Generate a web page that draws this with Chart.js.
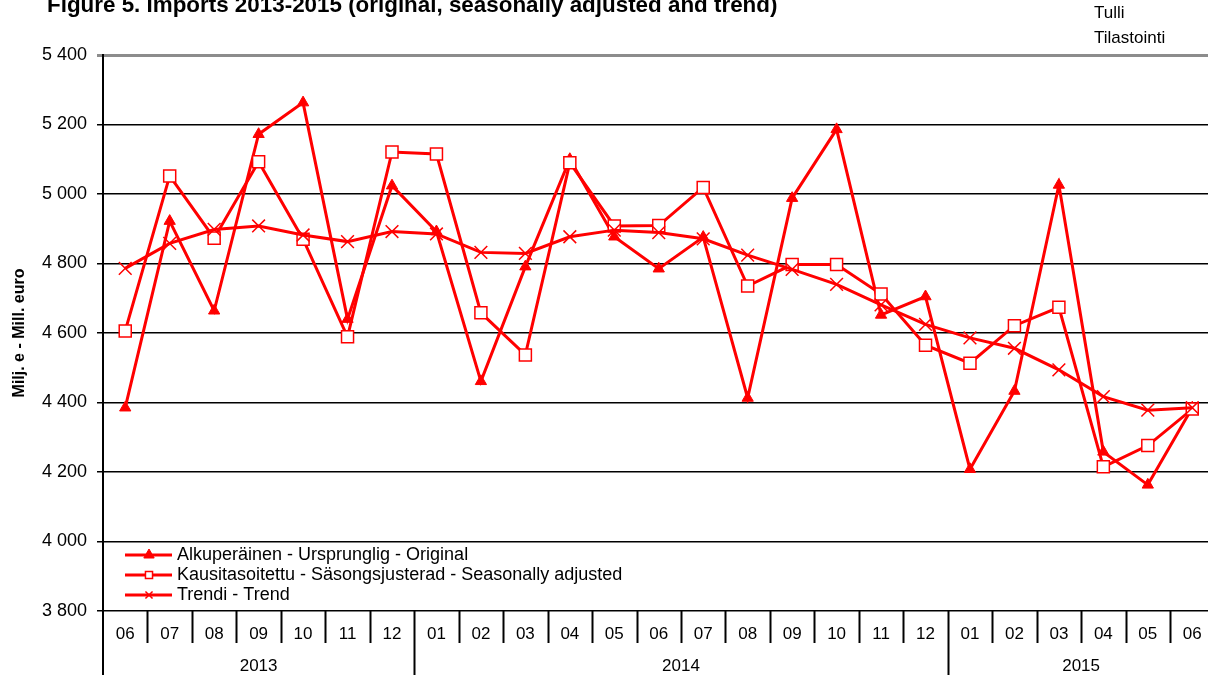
<!DOCTYPE html>
<html>
<head>
<meta charset="utf-8">
<script src="https://cdn.jsdelivr.net/npm/chart.js@4.4.1/dist/chart.umd.min.js"></script>
<style>
html, body { margin: 0; padding: 0; background: #fff; overflow: hidden; width: 1208px; height: 675px; }
#wrap { position: relative; width: 1208px; height: 675px; overflow: hidden; }
#chart { position: absolute; left: 0; top: 0; width: 1225px; height: 675px; }
.title { position: absolute; left: 47px; top: -6px; font: bold 22.4px "Liberation Sans", Arial, sans-serif; line-height: 22px; white-space: nowrap; color: #000; }
.source { position: absolute; left: 1094px; top: 0px; font: 17px "Liberation Sans", Arial, sans-serif; line-height: 25px; color: #000; }
</style>
</head>
<body>
<div id="wrap">
  <canvas id="chart" width="1225" height="675"></canvas>
  <div class="title">Figure 5. Imports 2013-2015 (original, seasonally adjusted and trend)</div>
  <div class="source">Tulli<br>Tilastointi</div>
</div>
<script>
const months = ['06', '07', '08', '09', '10', '11', '12',
    '01', '02', '03', '04', '05', '06', '07', '08', '09', '10', '11', '12',
    '01', '02', '03', '04', '05', '06'];
const years = ['2013', '2013', '2013', '2013', '2013', '2013', '2013',
    '2014', '2014', '2014', '2014', '2014', '2014', '2014', '2014', '2014', '2014', '2014', '2014',
    '2015', '2015', '2015', '2015', '2015', '2015'];

const original = [4385, 4922, 4664, 5172, 5263, 4640, 5024, 4892, 4461, 4791, 5100, 4877, 4785,
    4876, 4413, 4988, 5186, 4652, 4705, 4208, 4433, 5026, 4258, 4163, 4385];
const adjusted = [4606, 5052, 4873, 5093, 4870, 4589, 5121, 5115, 4658, 4537, 5090, 4908, 4909,
    5019, 4735, 4797, 4797, 4712, 4565, 4513, 4621, 4674, 4215, 4276, 4381];
const trend = [4786, 4858, 4898, 4908, 4882, 4863, 4892, 4885, 4832, 4829, 4877, 4896, 4889,
    4871, 4824, 4783, 4740, 4681, 4625, 4586, 4556, 4494, 4417, 4378, 4385];

const seriesNames = ['Alkuperäinen - Ursprunglig - Original',
    'Kausitasoitettu - Säsongsjusterad - Seasonally adjusted',
    'Trendi - Trend'];

const yMin = 3800, yMax = 5400, yStep = 200;
const red = '#ff0000';

Chart.defaults.font.family = "'Liberation Sans', Arial, sans-serif";
Chart.defaults.color = '#000';

function formatThousands(v) {
    return String(v).replace(/\B(?=(\d{3})+(?!\d))/g, ' ');
}

function line(ctx, x1, y1, x2, y2) {
    ctx.beginPath();
    ctx.moveTo(x1, y1);
    ctx.lineTo(x2, y2);
    ctx.stroke();
}

// month separators, year row and the legend inside the plot
const extras = {
    id: 'extras',
    afterDraw(chart) {
        const ctx = chart.ctx;
        const xs = chart.scales.x;
        const area = chart.chartArea;
        const half = (xs.getPixelForValue(1) - xs.getPixelForValue(0)) / 2;
        const bottom = chart.height;

        ctx.save();
        ctx.strokeStyle = '#000';
        ctx.lineWidth = 2;
        line(ctx, area.left, area.bottom, area.left, bottom);
        for (let i = 1; i < months.length; i++) {
            const px = Math.round(xs.getPixelForValue(i) - half) + 0.5;
            const longLine = years[i] !== years[i - 1];
            line(ctx, px, area.bottom, px, longLine ? bottom : area.bottom + 32);
        }

        ctx.fillStyle = '#000';
        ctx.font = "17px 'Liberation Sans', Arial, sans-serif";
        ctx.textAlign = 'center';
        ctx.textBaseline = 'middle';
        let start = 0;
        for (let i = 1; i <= months.length; i++) {
            if (i === months.length || years[i] !== years[start]) {
                const x0 = xs.getPixelForValue(start) - half;
                const x1 = xs.getPixelForValue(i - 1) + half;
                ctx.fillText(years[start], (x0 + x1) / 2, area.bottom + 55);
                start = i;
            }
        }

        // legend
        const legendSizes = [6, 5, 5];
        chart.data.datasets.forEach((ds, k) => {
            const y = area.top + 500 + k * 20;
            const lx = area.left + 22;
            ctx.strokeStyle = ds.borderColor;
            ctx.lineWidth = ds.borderWidth;
            line(ctx, lx, y, lx + 47, y);
            ctx.fillStyle = ds.pointBackgroundColor;
            ctx.strokeStyle = ds.pointBorderColor;
            ctx.lineWidth = ds.pointBorderWidth;
            Chart.helpers.drawPoint(ctx, {
                pointStyle: ds.pointStyle,
                radius: legendSizes[k],
                rotation: 0,
                borderWidth: ds.pointBorderWidth
            }, lx + 24, y);
            ctx.fillStyle = '#000';
            ctx.textAlign = 'left';
            ctx.font = "18px 'Liberation Sans', Arial, sans-serif";
            ctx.fillText(ds.label, lx + 52, y);
        });
        ctx.restore();
    }
};

new Chart(document.getElementById('chart'), {
    type: 'line',
    data: {
        labels: months,
        datasets: [{
            label: seriesNames[0],
            data: original,
            order: 3,
            borderColor: red,
            borderWidth: 3,
            pointStyle: 'triangle',
            pointRadius: 6.5,
            pointBackgroundColor: red,
            pointBorderColor: red,
            pointBorderWidth: 1
        }, {
            label: seriesNames[1],
            data: adjusted,
            order: 2,
            borderColor: red,
            borderWidth: 3,
            pointStyle: 'rect',
            pointRadius: 8.5,
            pointBackgroundColor: '#fff',
            pointBorderColor: red,
            pointBorderWidth: 1.5
        }, {
            label: seriesNames[2],
            data: trend,
            order: 1,
            borderColor: red,
            borderWidth: 3,
            pointStyle: 'crossRot',
            pointRadius: 9,
            pointBackgroundColor: red,
            pointBorderColor: red,
            pointBorderWidth: 1.5
        }]
    },
    options: {
        responsive: false,
        animation: false,
        events: [],
        layout: { padding: { top: 55, left: 0, right: 0, bottom: 0 } },
        elements: { line: { tension: 0 } },
        plugins: {
            legend: { display: false },
            tooltip: { enabled: false }
        },
        scales: {
            x: {
                type: 'category',
                offset: true,
                grid: { display: false, drawTicks: true, tickLength: 13 },
                border: { display: false },
                ticks: {
                    autoSkip: false,
                    maxRotation: 0,
                    padding: 0,
                    color: '#000',
                    font: { size: 17 }
                },
                afterFit(scale) { scale.height = 64; }
            },
            y: {
                min: yMin,
                max: yMax,
                ticks: {
                    stepSize: yStep,
                    padding: 10,
                    color: '#000',
                    font: { size: 18 },
                    callback: v => formatThousands(v)
                },
                grid: {
                    color: c => (c.tick && c.tick.value === yMax) ? '#8c8c8c' : '#000',
                    lineWidth: c => (c.tick && c.tick.value === yMax) ? 3 : 1.5,
                    tickLength: 6
                },
                border: { color: '#000', width: 2 },
                title: {
                    display: true,
                    text: 'Milj. e - Mill. euro',
                    color: '#000',
                    font: { size: 16, weight: 'bold' },
                    padding: { top: 10, bottom: 0 }
                },
                afterFit(scale) { scale.width = 103; }
            }
        }
    },
    plugins: [extras]
});
</script>
</body>
</html>
